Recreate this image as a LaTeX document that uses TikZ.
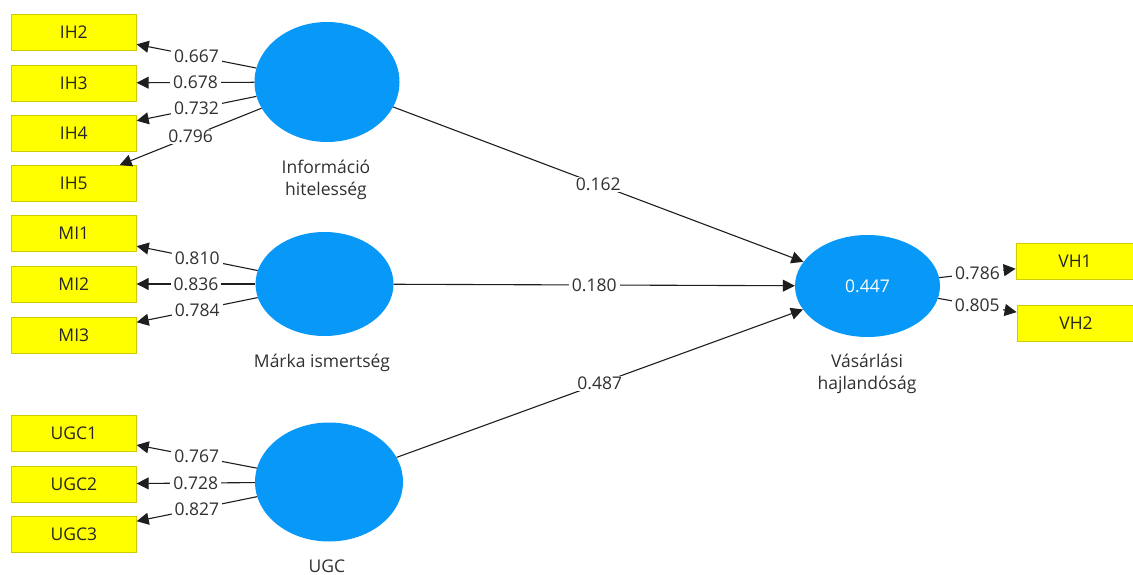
\documentclass[tikz,border=0pt]{standalone}
\usepackage{fontspec}
\setmainfont{Open Sans}
\usetikzlibrary{shapes.geometric,arrows.meta}
\definecolor{lvblue}{HTML}{0798F8}
\definecolor{boxfill}{HTML}{FFFF00}
\definecolor{boxedge}{HTML}{CCCC00}
\definecolor{wire}{HTML}{1E1E1E}
\definecolor{ink}{HTML}{303030}
\begin{document}
\begin{tikzpicture}[x=1pt,y=-1pt,
  ind/.style={draw=boxedge, line width=0.8pt, fill=boxfill, minimum width=125pt,
    minimum height=36pt, inner sep=0pt, text=black!85,
    font=\fontsize{17.5}{20}\selectfont},
  lv/.style={ellipse, fill=lvblue, inner sep=0pt},
  lvname/.style={text=ink, align=center, font=\fontsize{17.5}{22}\selectfont},
  path/.style={draw=wire, line width=1.1pt, -{Triangle[length=12pt,width=12pt]}},
  coef/.style={midway, fill=white, inner xsep=3pt, inner ysep=1pt, text=ink,
    font=\fontsize{17.5}{20}\selectfont}
]
\useasboundingbox (0,0) rectangle (1133,575);
\fill[white] (0,0) rectangle (1133,575);

% latent variables
\node[lv, minimum width=145pt, minimum height=120pt] (ih) at (327,82) {};
\node[lv, minimum width=138pt, minimum height=104pt] (mi) at (324.5,284) {};
\node[lv, minimum width=148pt, minimum height=119pt] (ugc) at (329,482) {};
\node[lv, minimum width=145pt, minimum height=102pt, text=white,
      font=\fontsize{17.5}{20}\selectfont] (vh) at (867.5,286) {0.447};

\node[lvname] (ihname) at (326,180) {Információ\\hitelesség};
\node[lvname] (miname) at (322,363) {Márka ismertség};
\node[lvname] (ugcname) at (327,566) {UGC};
\node[lvname] (vhname) at (867,374) {Vásárlási\\hajlandóság};

% indicators
\node[ind] (ih2) at (73.8,32) {IH2};
\node[ind] (ih3) at (73.8,83) {IH3};
\node[ind] (ih4) at (73.8,133.5) {IH4};
\node[ind] (ih5) at (73.8,183.5) {IH5};
\node[ind] (mi1) at (73.8,233.5) {MI1};
\node[ind] (mi2) at (73.8,284) {MI2};
\node[ind] (mi3) at (73.8,335) {MI3};
\node[ind] (ugc1) at (73.8,433) {UGC1};
\node[ind] (ugc2) at (73.8,484) {UGC2};
\node[ind] (ugc3) at (73.8,534) {UGC3};
\node[ind, minimum width=124pt] (vh1) at (1078,261.5) {\hspace*{-6pt}VH1};
\node[ind, minimum width=124pt] (vh2) at (1079,323) {\hspace*{-6pt}VH2};

% outer loadings
\path[path] (ih) -- (ih2) node[coef] {0.667};
\path[path] (ih) -- (ih3) node[coef] {0.678};
\path[path] (ih) -- (ih4) node[coef] {0.732};
\path[path] (ih) -- (ih5) node[coef] {0.796};
\path[path] (mi) -- (mi1) node[coef] {0.810};
\path[path] (mi) -- (mi2) node[coef] {0.836};
\path[path] (mi) -- (mi3) node[coef] {0.784};
\path[path] (ugc) -- (ugc1) node[coef] {0.767};
\path[path] (ugc) -- (ugc2) node[coef] {0.728};
\path[path] (ugc) -- (ugc3) node[coef] {0.827};
\path[path] (vh) -- (vh1) node[coef] {0.786};
\path[path] (vh) -- (vh2) node[coef] {0.805};

% structural paths
\path[path] (ih) -- (vh) node[coef] {0.162};
\path[path] (mi) -- (vh) node[coef] {0.180};
\path[path] (ugc) -- (vh) node[coef] {0.487};
\end{tikzpicture}
\end{document}
